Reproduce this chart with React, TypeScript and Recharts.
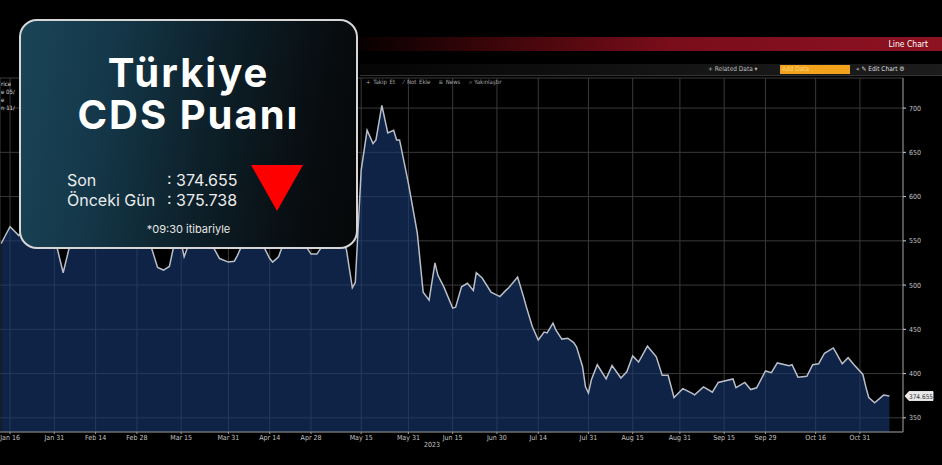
import { AreaChart, Area, XAxis, YAxis, CartesianGrid, ReferenceLine } from 'recharts';

// days since Jan 1 2023
const days = [
  12, 15, 18, 21, 24, 27, 30, 33, 36, 39, 42, 45, 48, 51, 54, 57, 60, 62, 65, 67, 69, 71, 73, 74, 76, 78, 80,
  83, 86, 89, 91, 92, 94, 97, 100, 103, 104, 106, 108, 111, 113, 115, 117, 119, 121, 123, 126, 129, 131, 132,
  134, 136, 138, 139, 141, 143, 145, 146, 147, 150, 153, 155, 157, 159, 160, 162, 165, 166, 168, 170, 172, 173,
  175, 178, 181, 183, 184, 187, 189, 190, 192, 194, 196, 197, 199, 200, 202, 204, 206, 207, 209, 210, 211, 212,
  214, 217, 219, 222, 224, 226, 228, 231, 234, 236, 238, 240, 243, 246, 247, 250, 253, 255, 260, 261, 264, 266,
  268, 271, 273, 275, 279, 280, 282, 285, 287, 289, 291, 294, 295, 297, 299, 301, 304, 305, 306, 308, 311, 313,
];

const cds = [
  547, 566, 556, 568, 575, 562, 555, 514, 555, 572, 585, 578, 590, 582, 575, 570, 566, 552, 520, 517, 521, 552, 548, 532, 550, 566, 572,
  548, 530, 526, 527, 533, 548, 565, 550, 530, 526, 532, 550, 570, 562, 545, 535, 535, 545, 566, 560, 540, 497, 503,
  630, 675, 660, 664, 703, 672, 675, 664, 664, 615, 559, 492, 483, 525, 511, 498, 474, 475, 498, 502, 494, 514,
  508, 492, 487, 494, 497, 509, 487, 475, 453, 438, 447, 446, 457, 449, 439, 440, 435, 430, 408, 385, 378, 393,
  410, 394, 409, 395, 402, 420, 413, 431, 419, 398, 398, 373, 383, 378, 376, 385, 379, 390, 394, 384, 390, 382,
  384, 403, 401, 412, 409, 410, 396, 397, 410, 411, 423, 429, 423, 411, 418, 410, 399, 385, 373, 367, 375.738, 374.655,
];

const tickDays = [15, 30, 44, 58, 73, 89, 103, 117, 134, 150, 165, 180, 194, 211, 226, 242, 257, 271, 288, 303];
const tickLabels = [
  'Jan 16', 'Jan 31', 'Feb 14', 'Feb 28', 'Mar 15', 'Mar 31', 'Apr 14', 'Apr 28', 'May 15', 'May 31',
  'Jun 15', 'Jun 30', 'Jul 14', 'Jul 31', 'Aug 15', 'Aug 31', 'Sep 15', 'Sep 29', 'Oct 16', 'Oct 31',
];
const yTicks = [350, 400, 450, 500, 550, 600, 650, 700];
const yearLabelDay = 158;

const data = days.map((d, i) => ({ d, v: cds[i] }));
const lastValue = cds[cds.length - 1];

const axisFont = '"Liberation Sans Narrow", "DejaVu Sans Condensed", sans-serif';

const LastValueTag = (props: any) => {
  const { viewBox } = props;
  if (!viewBox) return null;
  const x = viewBox.x + viewBox.width + 2;
  const y = viewBox.y;
  return (
    <g>
      <path
        d={`M${x} ${y} L${x + 4} ${y - 4.5} L${x + 28} ${y - 4.5} L${x + 28} ${y + 4.5} L${x + 4} ${y + 4.5} Z`}
        fill="#e9e9e9"
        stroke="#ffffff"
        strokeWidth={0.8}
      />
      <text x={x + 16} y={y + 2.5} textAnchor="middle" fontSize={6.5} fill="#333" fontFamily={axisFont}>
        {lastValue}
      </text>
    </g>
  );
};

const App = () => {
  if (typeof document !== 'undefined') {
    document.body.style.margin = '0';
    document.body.style.background = '#000';
  }

  return (
    <div
      style={{
        position: 'fixed',
        left: 0,
        top: 0,
        width: 942,
        height: 465,
        background: '#000',
        overflow: 'hidden',
        fontFamily: 'Inter, "Open Sans", sans-serif',
      }}
    >
      {/* top red title bar */}
      <div
        style={{
          position: 'absolute',
          left: 340,
          top: 37,
          width: 602,
          height: 14,
          background: 'linear-gradient(90deg, #000 0%, #3a0509 25%, #7a0d1a 55%, #8d1222 100%)',
        }}
      />
      <div
        style={{
          position: 'absolute',
          right: 14,
          top: 38,
          color: '#fff',
          fontSize: 8.5,
          fontFamily: axisFont,
          lineHeight: '12px',
        }}
      >
        Line Chart
      </div>

      {/* toolbar */}
      <div
        style={{
          position: 'absolute',
          left: 360,
          top: 64,
          width: 582,
          height: 11,
          background: 'linear-gradient(90deg, #050505 0%, #161616 60%, #1c1c1c 100%)',
          borderBottom: '1px solid #333',
        }}
      />
      <div
        style={{
          position: 'absolute',
          left: 708,
          top: 65,
          color: '#bbb',
          fontSize: 6.5,
          fontFamily: axisFont,
          lineHeight: '9px',
        }}
      >
        + Related Data ▾
      </div>
      <div
        style={{
          position: 'absolute',
          left: 780,
          top: 65,
          width: 70,
          height: 9,
          background: '#f3a21c',
          color: '#ffd27a',
          fontSize: 6.5,
          fontFamily: axisFont,
          lineHeight: '9px',
          paddingLeft: 2,
          boxSizing: 'border-box',
        }}
      >
        Add Data
      </div>
      <div
        style={{
          position: 'absolute',
          left: 856,
          top: 65,
          color: '#ddd',
          fontSize: 6.5,
          fontFamily: axisFont,
          lineHeight: '9px',
        }}
      >
        « ✎ Edit Chart ⚙
      </div>

      <AreaChart width={942} height={465} data={data} margin={{ top: 78, right: 0, bottom: 0, left: 0 }}>
        <CartesianGrid stroke="#3a3a3a" strokeWidth={1} />
        <XAxis
          dataKey="d"
          type="number"
          domain={[11.6, 317.6]}
          ticks={tickDays}
          tickFormatter={(d: number) => tickLabels[tickDays.indexOf(d)]}
          height={33}
          axisLine={{ stroke: '#8a8a8a' }}
          tickLine={{ stroke: '#9a9a9a' }}
          tickSize={2}
          tickMargin={1}
          tick={{ fill: '#c4c4c4', fontSize: 7, fontFamily: axisFont }}
          interval={0}
        />
        <YAxis
          orientation="right"
          width={39}
          domain={[334, 734]}
          ticks={yTicks}
          axisLine={{ stroke: '#8a8a8a' }}
          tickLine={{ stroke: '#cfcfcf' }}
          tickSize={3}
          tickMargin={3}
          tick={{ fill: '#c4c4c4', fontSize: 7, fontFamily: axisFont }}
          interval={0}
        />
        <Area
          type="linear"
          dataKey="v"
          stroke="#b9bec8"
          strokeWidth={1.5}
          fill="#17396f"
          fillOpacity={0.62}
          isAnimationActive={false}
          dot={false}
          activeDot={false}
        />
        <ReferenceLine y={lastValue} stroke="none" label={<LastValueTag />} />
        <ReferenceLine
          x={yearLabelDay}
          stroke="none"
          label={{ value: '2023', position: 'bottom', offset: 10, fill: '#c4c4c4', fontSize: 7, fontFamily: axisFont }}
        />
      </AreaChart>

      {/* chart toolbar inside plot */}
      <div
        style={{
          position: 'absolute',
          left: 366,
          top: 78,
          color: '#a8a8a8',
          fontSize: 6,
          fontFamily: axisFont,
          lineHeight: '8px',
          whiteSpace: 'nowrap',
          wordSpacing: 1,
        }}
      >
        + Takip Et &nbsp; ⁄ Not Ekle &nbsp; ≡ News &nbsp; ⌕ Yakınlaştır
      </div>

      {/* legend text cut by the left edge, only the visible part */}
      <div
        style={{
          position: 'absolute',
          left: 1,
          top: 80,
          color: '#ddd',
          fontSize: 6,
          fontFamily: axisFont,
          lineHeight: '8px',
          whiteSpace: 'nowrap',
        }}
      >
        <div>rice</div>
        <div>e 05/</div>
        <div>e</div>
        <div>n 11/</div>
      </div>

      {/* overlay card */}
      <div
        style={{
          position: 'absolute',
          left: 19,
          top: 19,
          width: 339,
          height: 230,
          boxSizing: 'border-box',
          border: '2px solid #d6d6d6',
          borderRadius: 18,
          background: 'linear-gradient(100deg, #1a4557 0%, #14384a 25%, #0d2029 55%, #080c0f 85%, #060809 100%)',
          color: '#fff',
        }}
      >
        <div
          style={{
            position: 'absolute',
            left: 0,
            width: '100%',
            top: 32,
            textAlign: 'center',
            fontSize: 40,
            fontWeight: 700,
            lineHeight: '40px',
            letterSpacing: 2,
          }}
        >
          Türkiye
        </div>
        <div
          style={{
            position: 'absolute',
            left: 0,
            width: '100%',
            top: 74,
            textAlign: 'center',
            fontSize: 40,
            fontWeight: 700,
            lineHeight: '40px',
            letterSpacing: 2,
          }}
        >
          CDS Puanı
        </div>
        <div style={{ position: 'absolute', left: 46, top: 149, fontSize: 16, lineHeight: '20px', color: '#ececec' }}>
          <div style={{ display: 'flex' }}>
            <span style={{ width: 100 }}>Son</span>
            <span>: 374.655</span>
          </div>
          <div style={{ display: 'flex' }}>
            <span style={{ width: 100 }}>Önceki Gün</span>
            <span>: 375.738</span>
          </div>
        </div>
        <div
          style={{
            position: 'absolute',
            left: 230,
            top: 144,
            width: 52,
            height: 46,
            background: '#ff0000',
            clipPath: 'polygon(0 0, 100% 0, 50% 100%)',
          }}
        />
        <div
          style={{
            position: 'absolute',
            left: 0,
            width: '100%',
            top: 201,
            textAlign: 'center',
            fontSize: 11,
            color: '#e6e6e6',
          }}
        >
          *09:30 itibariyle
        </div>
      </div>
    </div>
  );
};

export default App;
